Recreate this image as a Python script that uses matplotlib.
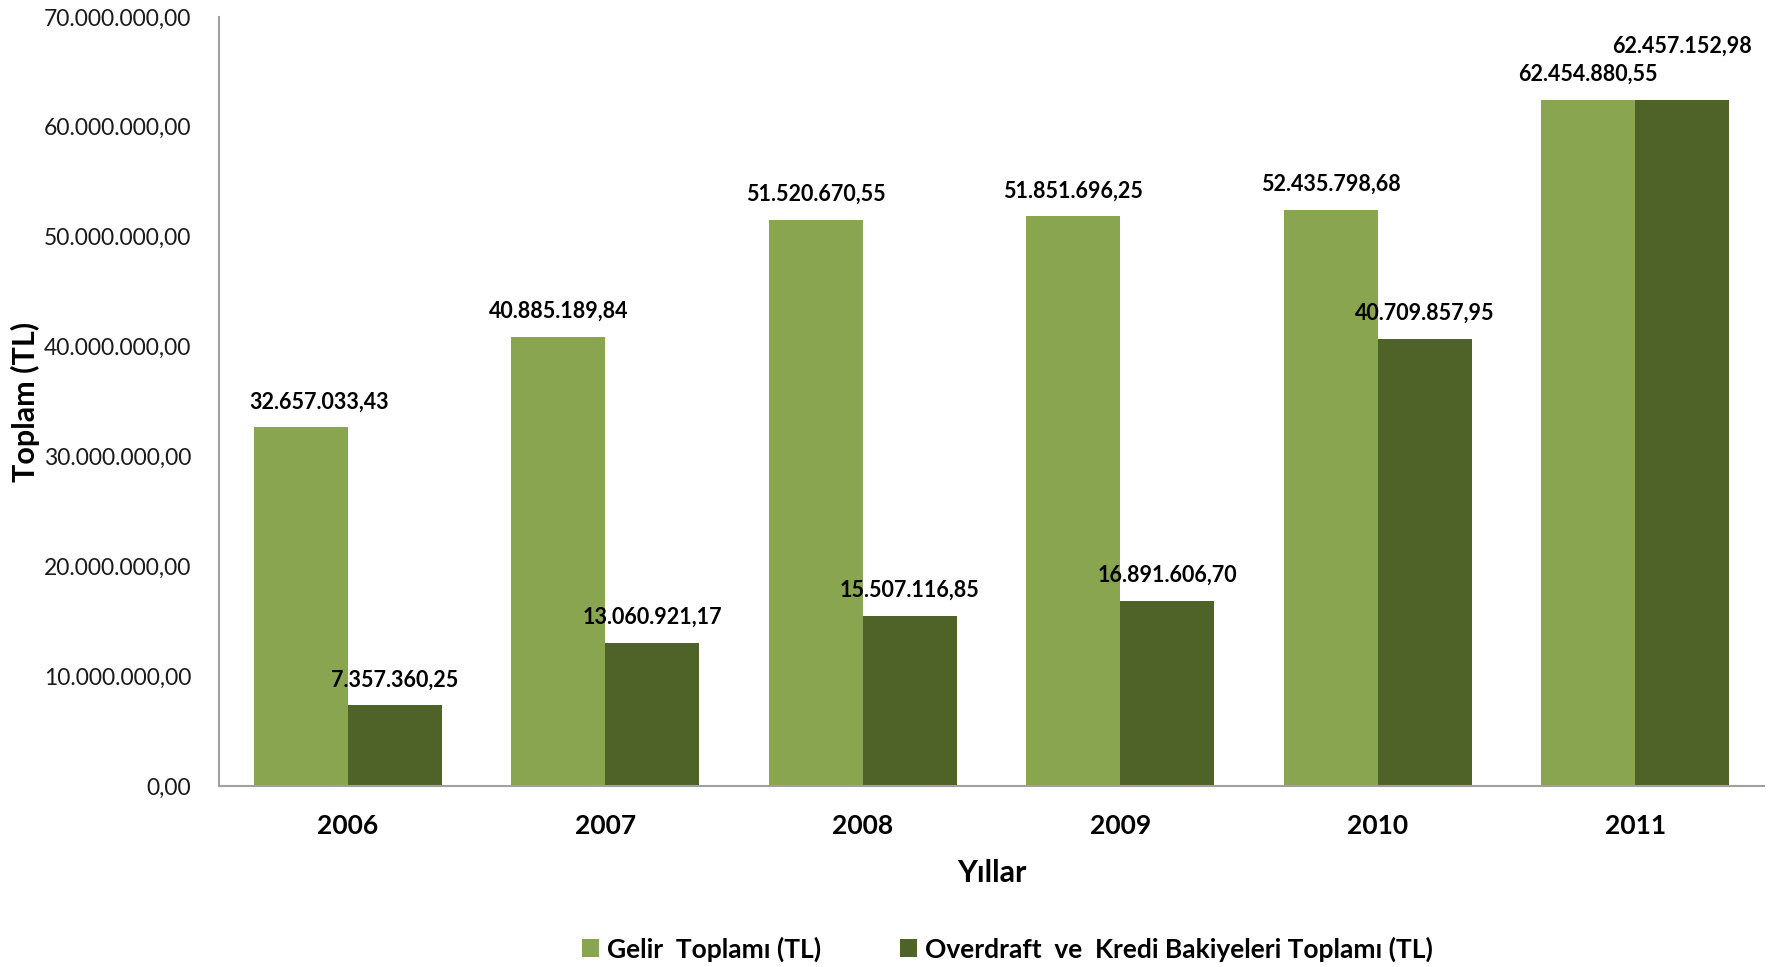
import matplotlib
matplotlib.use("Agg")
import matplotlib.pyplot as plt
import numpy as np
from matplotlib.ticker import FuncFormatter

years = ["2006", "2007", "2008", "2009", "2010", "2011"]
gelir = [32657033.43, 40885189.84, 51520670.55, 51851696.25, 52435798.68, 62454880.55]
kredi = [7357360.25, 13060921.17, 15507116.85, 16891606.70, 40709857.95, 62457152.98]
series_names = ["Gelir  Toplamı (TL)", "Overdraft  ve  Kredi Bakiyeleri Toplamı (TL)"]

def tr_fmt(v):
    s = f"{v:,.2f}"
    return s.replace(",", "X").replace(".", ",").replace("X", ".")

plt.rcParams['font.family'] = ['Lato', 'DejaVu Sans']

fig = plt.figure(figsize=(17.88, 9.67), dpi=100)
ax = fig.add_axes([0.1225, 0.187, 0.864, 0.7955])

x = np.arange(len(years))
w = 0.365
c1, c2 = "#8AA54F", "#4F6228"
b1 = ax.bar(x - w/2, gelir, w, color=c1, label=series_names[0])
b2 = ax.bar(x + w/2, kredi, w, color=c2, label=series_names[1])

ax.set_xlim(-0.5, len(years) - 0.5)
ax.set_ylim(0, 70000000)
ax.set_yticks(np.arange(0, 70000001, 10000000))
ax.yaxis.set_major_formatter(FuncFormatter(lambda v, p: tr_fmt(v)))
ax.set_xticks(x)
ax.set_xticklabels(years, fontsize=19, fontweight='bold')
ax.tick_params(axis='y', length=0, labelsize=16.5, pad=20, labelcolor="#1a1a1a")
ax.tick_params(axis='x', length=0, pad=20)

for s in ['top', 'right']:
    ax.spines[s].set_visible(False)
for s in ['left', 'bottom']:
    ax.spines[s].set_color("#A0A0A0")
    ax.spines[s].set_linewidth(1.5)

off1 = [18, 0, 0, 0, 0, 0]
off2 = [0, 0, 0, 0, 0, 28]
for i, r in enumerate(b1):
    ax.annotate(tr_fmt(gelir[i]), (r.get_x() + r.get_width()/2, r.get_height()),
                xytext=(off1[i], 15), textcoords='offset pixels', ha='center', va='bottom',
                fontsize=15.5, fontweight='bold')
for i, r in enumerate(b2):
    ax.annotate(tr_fmt(kredi[i]), (r.get_x() + r.get_width()/2, r.get_height()),
                xytext=(0, 15 + off2[i]), textcoords='offset pixels', ha='center', va='bottom',
                fontsize=15.5, fontweight='bold')

ax.set_xlabel("Yıllar", fontsize=22, fontweight='bold', labelpad=15)
ax.set_ylabel("Toplam (TL)", fontsize=22, fontweight='bold')
ax.yaxis.set_label_coords(-0.116, 0.5)

fig.legend(handles=[b1, b2], loc='center', bbox_to_anchor=(0.5635, 0.0185), ncol=2,
           frameon=False, prop={'weight': 'bold', 'size': 19},
           handlelength=0.65, handleheight=0.65, handletextpad=0.3, columnspacing=3)

fig.savefig("out.png", dpi=100)
